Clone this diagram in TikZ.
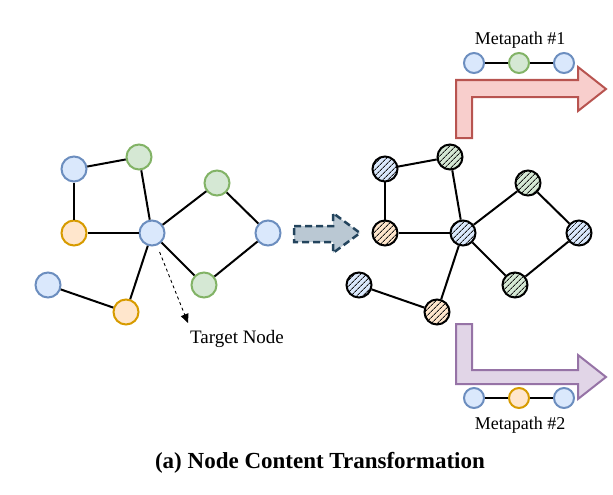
\documentclass[tikz,border=0pt]{standalone}
\usepackage{fontspec}
\setmainfont{Liberation Serif}
\usetikzlibrary{%
  arrows.meta,
  patterns.meta,
  positioning,
  calc
}

\definecolor{bluefill}{HTML}{DAE8FC}
\definecolor{bluedraw}{HTML}{6C8EBF}
\definecolor{greenfill}{HTML}{D5E8D4}
\definecolor{greendraw}{HTML}{82B366}
\definecolor{orangefill}{HTML}{FFE6CC}
\definecolor{orangedraw}{HTML}{D79B00}
\definecolor{redfill}{HTML}{F8CECC}
\definecolor{reddraw}{HTML}{B85450}
\definecolor{purplefill}{HTML}{E1D5E7}
\definecolor{purpledraw}{HTML}{9673A6}
\definecolor{slatefill}{HTML}{BAC8D3}
\definecolor{slatedraw}{HTML}{23445D}

\tikzset{
  vertex/.style={circle, minimum size=25pt, inner sep=0pt, line width=2pt},
  bluev/.style={vertex, draw=bluedraw, fill=bluefill},
  greenv/.style={vertex, draw=greendraw, fill=greenfill},
  orangev/.style={vertex, draw=orangedraw, fill=orangefill},
  hatchv/.style={vertex, draw=black, preaction={fill=#1},
    pattern={Lines[angle=45, distance=4pt, line width=0.9pt]}, pattern color=black!90},
  pathv/.style={minimum size=20pt},
  link/.style={line width=2pt},
  bigarrow/.style={line width=2pt, line join=miter},
  label text/.style={font=\fontsize{18}{20}\selectfont}
}

\begin{document}
\begin{tikzpicture}[x=1pt, y=-1pt]
  \useasboundingbox (0,0) rectangle (613,495);

  % input graph
  \node[bluev]   (lbt) at ( 74,169) {};
  \node[greenv]  (lgt) at (139,157) {};
  \node[orangev] (lol) at ( 74,233) {};
  \node[bluev]   (lc)  at (152,233) {};
  \node[greenv]  (lgr) at (217,183) {};
  \node[bluev]   (lbr) at (268,233) {};
  \node[greenv]  (lgb) at (204,285) {};
  \node[bluev]   (lbb) at ( 48,285) {};
  \node[orangev] (lob) at (126,312) {};

  % transformed graph
  \node[hatchv=bluefill]   (rbt) at (385,169) {};
  \node[hatchv=greenfill]  (rgt) at (450,157) {};
  \node[hatchv=orangefill] (rol) at (385,233) {};
  \node[hatchv=bluefill]   (rc)  at (463,233) {};
  \node[hatchv=greenfill]  (rgr) at (528,183) {};
  \node[hatchv=bluefill]   (rbr) at (579,233) {};
  \node[hatchv=greenfill]  (rgb) at (515,285) {};
  \node[hatchv=bluefill]   (rbb) at (359,285) {};
  \node[hatchv=orangefill] (rob) at (437,312) {};

  \foreach \g in {l, r}
    \foreach \a/\b in {bt/gt, bt/ol, ol/c, gt/c, c/gr, gr/br, br/gb, gb/c, c/ob, ob/bb}
      \draw [link] (\g\a) -- (\g\b) ;

  % target node
  \coordinate (tgttip) at (188,323);
  \draw [dashed, line width=0.9pt, -{Triangle[length=9pt, width=8pt]}, shorten <=7pt]
        (lc) -- (tgttip) ;
  \node[label text, font=\fontsize{19}{21}\selectfont] (tgtlabel) at (237,339) {Target Node};

  % transformation arrow
  \draw [draw=slatedraw, fill=slatefill, line width=2.5pt, dash pattern=on 7pt off 4pt]
        (294,226) -- (333,226) -- (333,213) -- (360,233) -- (333,253)
        -- (333,242) -- (294,242) -- cycle ;

  % metapath arrows
  \draw [bigarrow, draw=reddraw, fill=redfill]
        (456,138) -- (456,80) -- (578,80) -- (578,67) -- (606,89)
        -- (578,111) -- (578,97) -- (472,97) -- (472,138) -- cycle ;
  \draw [bigarrow, draw=purpledraw, fill=purplefill]
        (456,324) -- (472,324) -- (472,370) -- (578,370) -- (578,355)
        -- (606,377) -- (578,399) -- (578,384) -- (456,384) -- cycle ;

  % metapath #1
  \node[label text] (mp1) at (520,40) {Metapath \#1};
  \node[bluev, pathv]  (mp1a) at (474,63) {};
  \node[greenv, pathv] (mp1b) at (519,63) {};
  \node[bluev, pathv]  (mp1c) at (564,63) {};
  \draw [link] (mp1a) -- (mp1b) (mp1b) -- (mp1c) ;

  % metapath #2
  \node[bluev, pathv]   (mp2a) at (474,398) {};
  \node[orangev, pathv] (mp2b) at (519,398) {};
  \node[bluev, pathv]   (mp2c) at (564,398) {};
  \draw [link] (mp2a) -- (mp2b) (mp2b) -- (mp2c) ;
  \node[label text] (mp2) at (520,425) {Metapath \#2};

  \node[font=\bfseries\fontsize{23}{26}\selectfont] (caption) at (320,463)
        {(a) Node Content Transformation};
\end{tikzpicture}
\end{document}
